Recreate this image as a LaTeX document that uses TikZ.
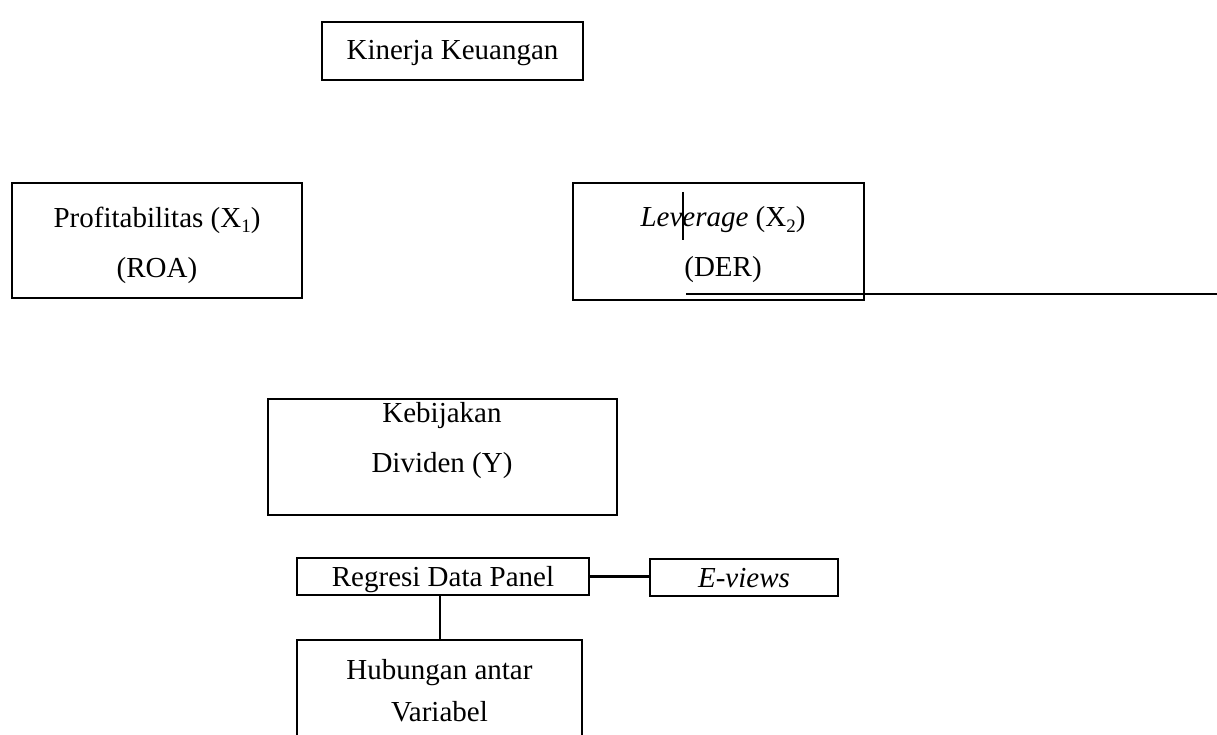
\documentclass[tikz,border=0pt]{standalone}
\usepackage{fontspec}
\setmainfont{Liberation Serif}
\newcommand{\subnum}[1]{\raisebox{-0.18em}{\fontsize{19}{19}\selectfont #1}}
\begin{document}
\begin{tikzpicture}[x=1pt,y=-1pt,
  box/.style={draw=black, line width=2.4pt, rectangle, inner sep=0pt},
  txt/.style={inner sep=0pt, align=center, font=\fontsize{29}{50}\selectfont},
  link/.style={draw=black, line width=2.4pt}]
\useasboundingbox[fill=white] (0,0) rectangle (1217,735);
% boxes
\node[box, minimum width=261pt, minimum height=58pt] (kin) at (452.5,51) {};
\node[box, minimum width=290pt, minimum height=115pt] (prof) at (157,240.5) {};
\node[box, minimum width=291pt, minimum height=117pt] (lev) at (718.5,241.5) {};
\node[box, minimum width=349pt, minimum height=116pt] (keb) at (442.5,457) {};
\node[box, minimum width=292pt, minimum height=37pt] (reg) at (443,576.5) {};
\node[box, minimum width=188pt, minimum height=37pt] (ev) at (744,577.5) {};
\node[box, minimum width=285pt, minimum height=100pt] (hub) at (439.5,690) {};
% texts
\node[txt] (kint) at (452.5,53) {Kinerja Keuangan};
\node[txt] (proft) at (157,245) {Profitabilitas (X\subnum{1})\\(ROA)};
\node[txt] (levt) at (723,245) {\textit{Leverage} (X\subnum{2})\\(DER)};
\node[txt] (kebt) at (442,441) {Kebijakan\\Dividen (Y)};
\node[txt] (regt) at (443,580) {Regresi Data Panel};
\node[txt] (evt) at (744,578) {\textit{E-views}};
\node[txt, font=\fontsize{29}{42}\selectfont] (hubt) at (439.5,691) {Hubungan antar\\Variabel};
% connectors
\draw[link] (reg.east |- reg.center) -- (ev.west |- reg.center);
\draw[link] (reg.south -| 440,0) -- (hub.north -| 440,0);
% stray marks
\coordinate (ulA) at (686,294);
\coordinate (ulB) at (1217,294);
\draw[link] (ulA) -- (ulB);
\coordinate (cuA) at (683,192);
\coordinate (cuB) at (683,240);
\draw[link] (cuA) -- (cuB);
\end{tikzpicture}
\end{document}
